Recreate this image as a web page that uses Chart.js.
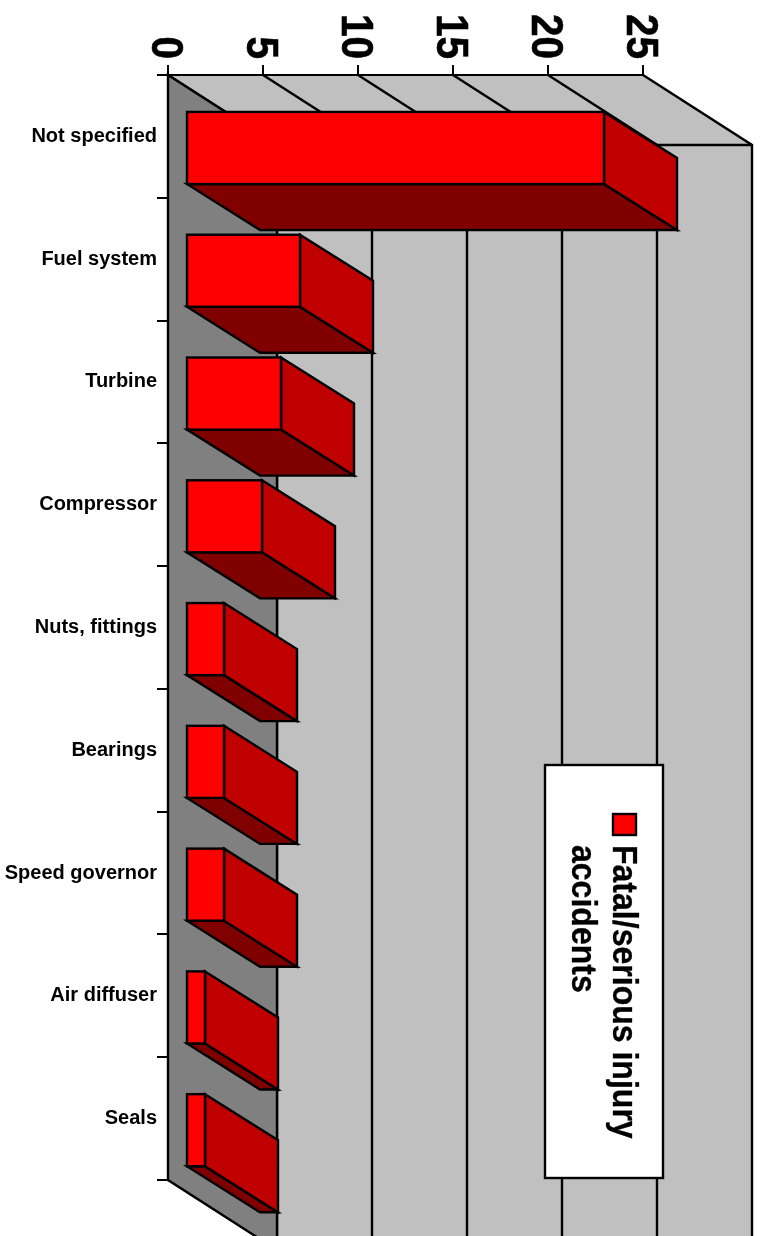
<!DOCTYPE html>
<html>
<head>
<meta charset="utf-8">
<style>
  html, body { margin: 0; padding: 0; background: #ffffff; }
  canvas { display: block; }
</style>
<script src="https://cdn.jsdelivr.net/npm/chart.js@4/dist/chart.umd.min.js"></script>
</head>
<body>
<canvas id="chart" width="761" height="1236"></canvas>
<script>
const categories = ["Not specified", "Fuel system", "Turbine", "Compressor", "Nuts, fittings", "Bearings", "Speed governor", "Air diffuser", "Seals"];
const accidents = [22, 6, 5, 4, 2, 2, 2, 1, 1];
const legendLines = ["Fatal/serious injury", "accidents"];

const FONT = '"Liberation Sans", Arial, sans-serif';
// depth of the fake 3D box and of the bars, in px
const wallDX = 109, wallDY = 70;
const barDX = 73, barDY = 46;
const barShiftX = 18, barShiftY = 11.6;
const strokeW = 2.4;

function line(ctx, points) {
  ctx.beginPath();
  ctx.moveTo(points[0][0], points[0][1]);
  for (let i = 1; i < points.length; i++) ctx.lineTo(points[i][0], points[i][1]);
  ctx.stroke();
}
function poly(ctx, points, fill) {
  ctx.beginPath();
  ctx.moveTo(points[0][0], points[0][1]);
  for (let i = 1; i < points.length; i++) ctx.lineTo(points[i][0], points[i][1]);
  ctx.closePath();
  ctx.fillStyle = fill;
  ctx.fill();
  ctx.stroke();
}
// rotated labels in the picture are squeezed along the reading direction
function sideText(ctx, text, x, y, squeeze) {
  ctx.save();
  ctx.translate(x, y);
  ctx.rotate(Math.PI / 2);
  ctx.scale(squeeze, 1);
  ctx.fillText(text, 0, 0);
  ctx.strokeText(text, 0, 0);
  ctx.restore();
}

const box3d = {
  id: 'box3d',
  beforeDraw(chart) {
    const ctx = chart.ctx, a = chart.chartArea, x = chart.scales.x;
    ctx.save();
    ctx.fillStyle = '#c0c0c0';
    ctx.fillRect(a.left + wallDX, a.top + wallDY, a.right - a.left, a.bottom - a.top);
    ctx.beginPath();
    ctx.moveTo(a.left, a.top);
    ctx.lineTo(a.right, a.top);
    ctx.lineTo(a.right + wallDX, a.top + wallDY);
    ctx.lineTo(a.left + wallDX, a.top + wallDY);
    ctx.closePath();
    ctx.fill();
    ctx.strokeStyle = '#000000';
    ctx.lineWidth = strokeW;
    x.ticks.forEach(function (t) {
      const px = x.getPixelForValue(t.value);
      line(ctx, [[px, a.top], [px + wallDX, a.top + wallDY], [px + wallDX, a.bottom + wallDY]]);
    });
    line(ctx, [[a.left + wallDX, a.top + wallDY], [a.right + wallDX, a.top + wallDY]]);
    poly(ctx, [[a.left, a.top], [a.left + wallDX, a.top + wallDY], [a.left + wallDX, a.bottom + wallDY], [a.left, a.bottom]], '#808080');
    ctx.restore();
  },
  beforeDatasetsDraw(chart) {
    const ctx = chart.ctx;
    ctx.save();
    ctx.translate(barShiftX, barShiftY);
    ctx.strokeStyle = '#000000';
    ctx.lineWidth = strokeW;
    chart.getDatasetMeta(0).data.forEach(function (bar) {
      const top = bar.y - bar.height / 2, bottom = bar.y + bar.height / 2;
      poly(ctx, [[bar.base, bottom], [bar.x, bottom], [bar.x + barDX, bottom + barDY], [bar.base + barDX, bottom + barDY]], '#800000');
      poly(ctx, [[bar.x, top], [bar.x + barDX, top + barDY], [bar.x + barDX, bottom + barDY], [bar.x, bottom]], '#c00000');
    });
  },
  afterDatasetsDraw(chart) {
    const ctx = chart.ctx;
    // outline centred on the bar edge, the library would draw it inside
    chart.getDatasetMeta(0).data.forEach(function (bar) {
      ctx.strokeRect(bar.base, bar.y - bar.height / 2, bar.x - bar.base, bar.height);
    });
    ctx.restore();
  },
  afterDraw(chart) {
    const ctx = chart.ctx, x = chart.scales.x;
    // value labels run top to bottom, ending just above the tick marks
    ctx.save();
    ctx.fillStyle = '#000000';
    ctx.strokeStyle = '#000000';
    ctx.lineWidth = 0.6;
    ctx.font = 'bold 44px ' + FONT;
    ctx.textAlign = 'right';
    ctx.textBaseline = 'alphabetic';
    x.ticks.forEach(function (t) {
      sideText(ctx, t.label, x.getPixelForValue(t.value) - 16, 59, 0.92);
    });
    ctx.restore();

    // legend box
    ctx.save();
    ctx.fillStyle = '#ffffff';
    ctx.strokeStyle = '#000000';
    ctx.lineWidth = strokeW;
    ctx.fillRect(545, 765, 118, 413);
    ctx.strokeRect(545, 765, 118, 413);
    ctx.fillStyle = '#ff0000';
    ctx.fillRect(613, 814, 23, 21);
    ctx.strokeRect(613, 814, 23, 21);
    ctx.fillStyle = '#000000';
    ctx.lineWidth = 0.3;
    ctx.font = 'bold 35px ' + FONT;
    ctx.textAlign = 'left';
    ctx.textBaseline = 'alphabetic';
    legendLines.forEach(function (text, i) {
      sideText(ctx, text, 613 - i * 41, 845, 0.915);
    });
    ctx.restore();
  }
};

new Chart(document.getElementById('chart'), {
  type: 'bar',
  data: {
    labels: categories,
    datasets: [{
      label: legendLines.join(' '),
      data: accidents,
      backgroundColor: '#ff0000',
      borderWidth: 0,
      barPercentage: 0.587,
      categoryPercentage: 1,
      clip: false
    }]
  },
  options: {
    indexAxis: 'y',
    responsive: false,
    animation: false,
    layout: { padding: { left: 0, top: 0, right: 118, bottom: 56 } },
    plugins: { legend: { display: false }, tooltip: { enabled: false } },
    scales: {
      x: {
        position: 'top',
        min: 0,
        max: 25,
        afterFit: function (s) { s.height = 75; },
        ticks: { display: false, stepSize: 5 },
        grid: { drawOnChartArea: false, color: '#000000', lineWidth: 2, tickLength: 10 },
        border: { color: '#000000', width: 2 }
      },
      y: {
        afterFit: function (s) { s.width = 168; },
        ticks: { color: '#000000', padding: 0, font: { family: FONT, size: 20, weight: 'bold' } },
        grid: { drawOnChartArea: false, color: '#000000', lineWidth: 2, tickLength: 11 },
        border: { color: '#000000', width: 2 }
      }
    }
  },
  plugins: [box3d]
});
</script>
</body>
</html>
